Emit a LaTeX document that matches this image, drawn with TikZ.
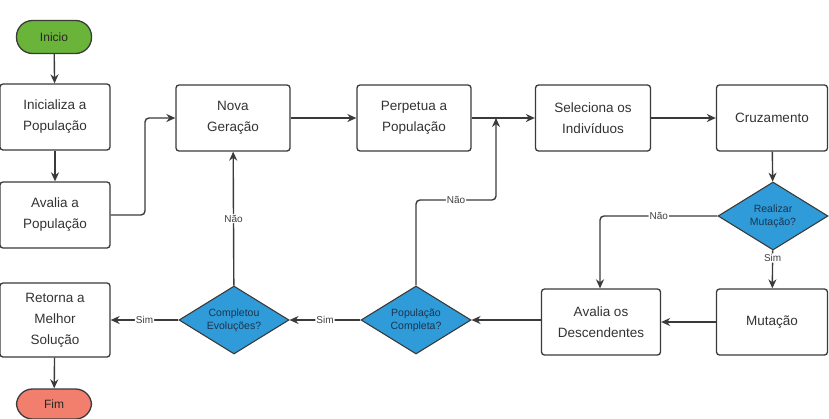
\documentclass[tikz,border=0pt]{standalone}
\usepackage{fontspec}
\setmainfont{Liberation Sans}
\usetikzlibrary{shapes.geometric,arrows.meta}
\definecolor{startg}{HTML}{6AB43A}
\definecolor{endr}{HTML}{F27F6E}
\definecolor{decb}{HTML}{2F9BD8}
\definecolor{dect}{HTML}{1B3550}
\definecolor{edgec}{HTML}{3A3A3A}
\tikzset{
  procbox/.style={draw=edgec, line width=1.3pt, rounded corners=3pt, fill=white,
    minimum width=#1, minimum height=66pt, align=center, inner sep=1pt,
    font=\fontsize{13.5}{21}\selectfont, text=black!80},
  procbox/.default=114pt,
  termbox/.style={draw=edgec, line width=1.3pt, rounded corners=16pt, fill=#1,
    minimum width=75pt, minimum height=33pt, font=\fontsize{12}{14}\selectfont, text=black!85},
  decision/.style={diamond, draw=edgec, line width=1.1pt, fill=decb, inner sep=0pt,
    aspect=1.6, minimum width=110pt, minimum height=68pt, align=center,
    font=\fontsize{10.5}{13}\selectfont, text=dect},
  conn/.style={draw=edgec, line width=1.4pt, -{Stealth[length=9pt,width=8pt]}, rounded corners=4pt},
  lbl/.style={fill=white, inner sep=1pt, font=\fontsize{10}{12}\selectfont, text=black!75}
}
\begin{document}
\begin{tikzpicture}[x=1pt,y=-1pt]
\useasboundingbox (0,0) rectangle (829,418);
\node[termbox=startg] (ini) at (54,37) {Inicio};
\node[procbox=110pt] (inic) at (55,117) {Inicializa a\\População};
\node[procbox=110pt] (aval) at (55,215) {Avalia a\\População};
\node[procbox] (nova) at (233,118) {Nova\\Geração};
\node[procbox] (perp) at (414,118) {Perpetua a\\População};
\node[procbox=115pt] (sel) at (593,118) {Seleciona os\\Indivíduos};
\node[procbox=111pt] (cruz) at (772,118) {Cruzamento};
\node[decision] (real) at (773,216) {Realizar\\Mutação?};
\node[procbox=111pt] (mut) at (772,322) {Mutação};
\node[procbox=119pt] (avd) at (601,322) {Avalia os\\Descendentes};
\node[decision] (popc) at (416,320) {População\\Completa?};
\node[decision] (comp) at (234,320) {Completou\\Evoluções?};
\node[procbox=110pt, minimum height=74pt] (ret) at (55,320) {Retorna a\\Melhor\\Solução};
\node[termbox=endr, minimum height=30pt] (fim) at (54,404) {Fim};

\coordinate (j1) at (145,215);
\coordinate (j2) at (145,118);
\coordinate (nj) at (600,216);
\coordinate (pj1) at (416,200);
\coordinate (pj2) at (496,200);
\coordinate (pj3) at (496,118);

\draw[conn] (ini) -- (inic);
\draw[conn] (inic) -- (aval);
\draw[conn] (aval.east) -- (j1) -- (j2) -- (nova.west);
\draw[conn] (nova) -- (perp);
\draw[conn] (perp) -- (sel);
\draw[conn] (sel) -- (cruz);
\draw[conn] (cruz) -- (real);
\draw[conn] (real) -- node[lbl, pos=0.2] {Sim} (mut);
\draw[conn] (real.west) -- node[lbl, pos=0.5] {Não} (nj) -- (nj |- avd.north);
\draw[conn] (mut) -- (avd);
\draw[conn] (avd.west |- popc.east) -- (popc.east);
\draw[conn] (popc) -- node[lbl, pos=0.5] {Sim} (comp);
\draw[conn] (popc.north) -- (pj1) -- node[lbl, pos=0.5] {Não} (pj2) -- (pj3);
\draw[conn] (comp) -- node[lbl, pos=0.5] {Não} (nova);
\draw[conn] (comp) -- node[lbl, pos=0.5] {Sim} (ret);
\draw[conn] (ret) -- (fim);
\end{tikzpicture}
\end{document}
